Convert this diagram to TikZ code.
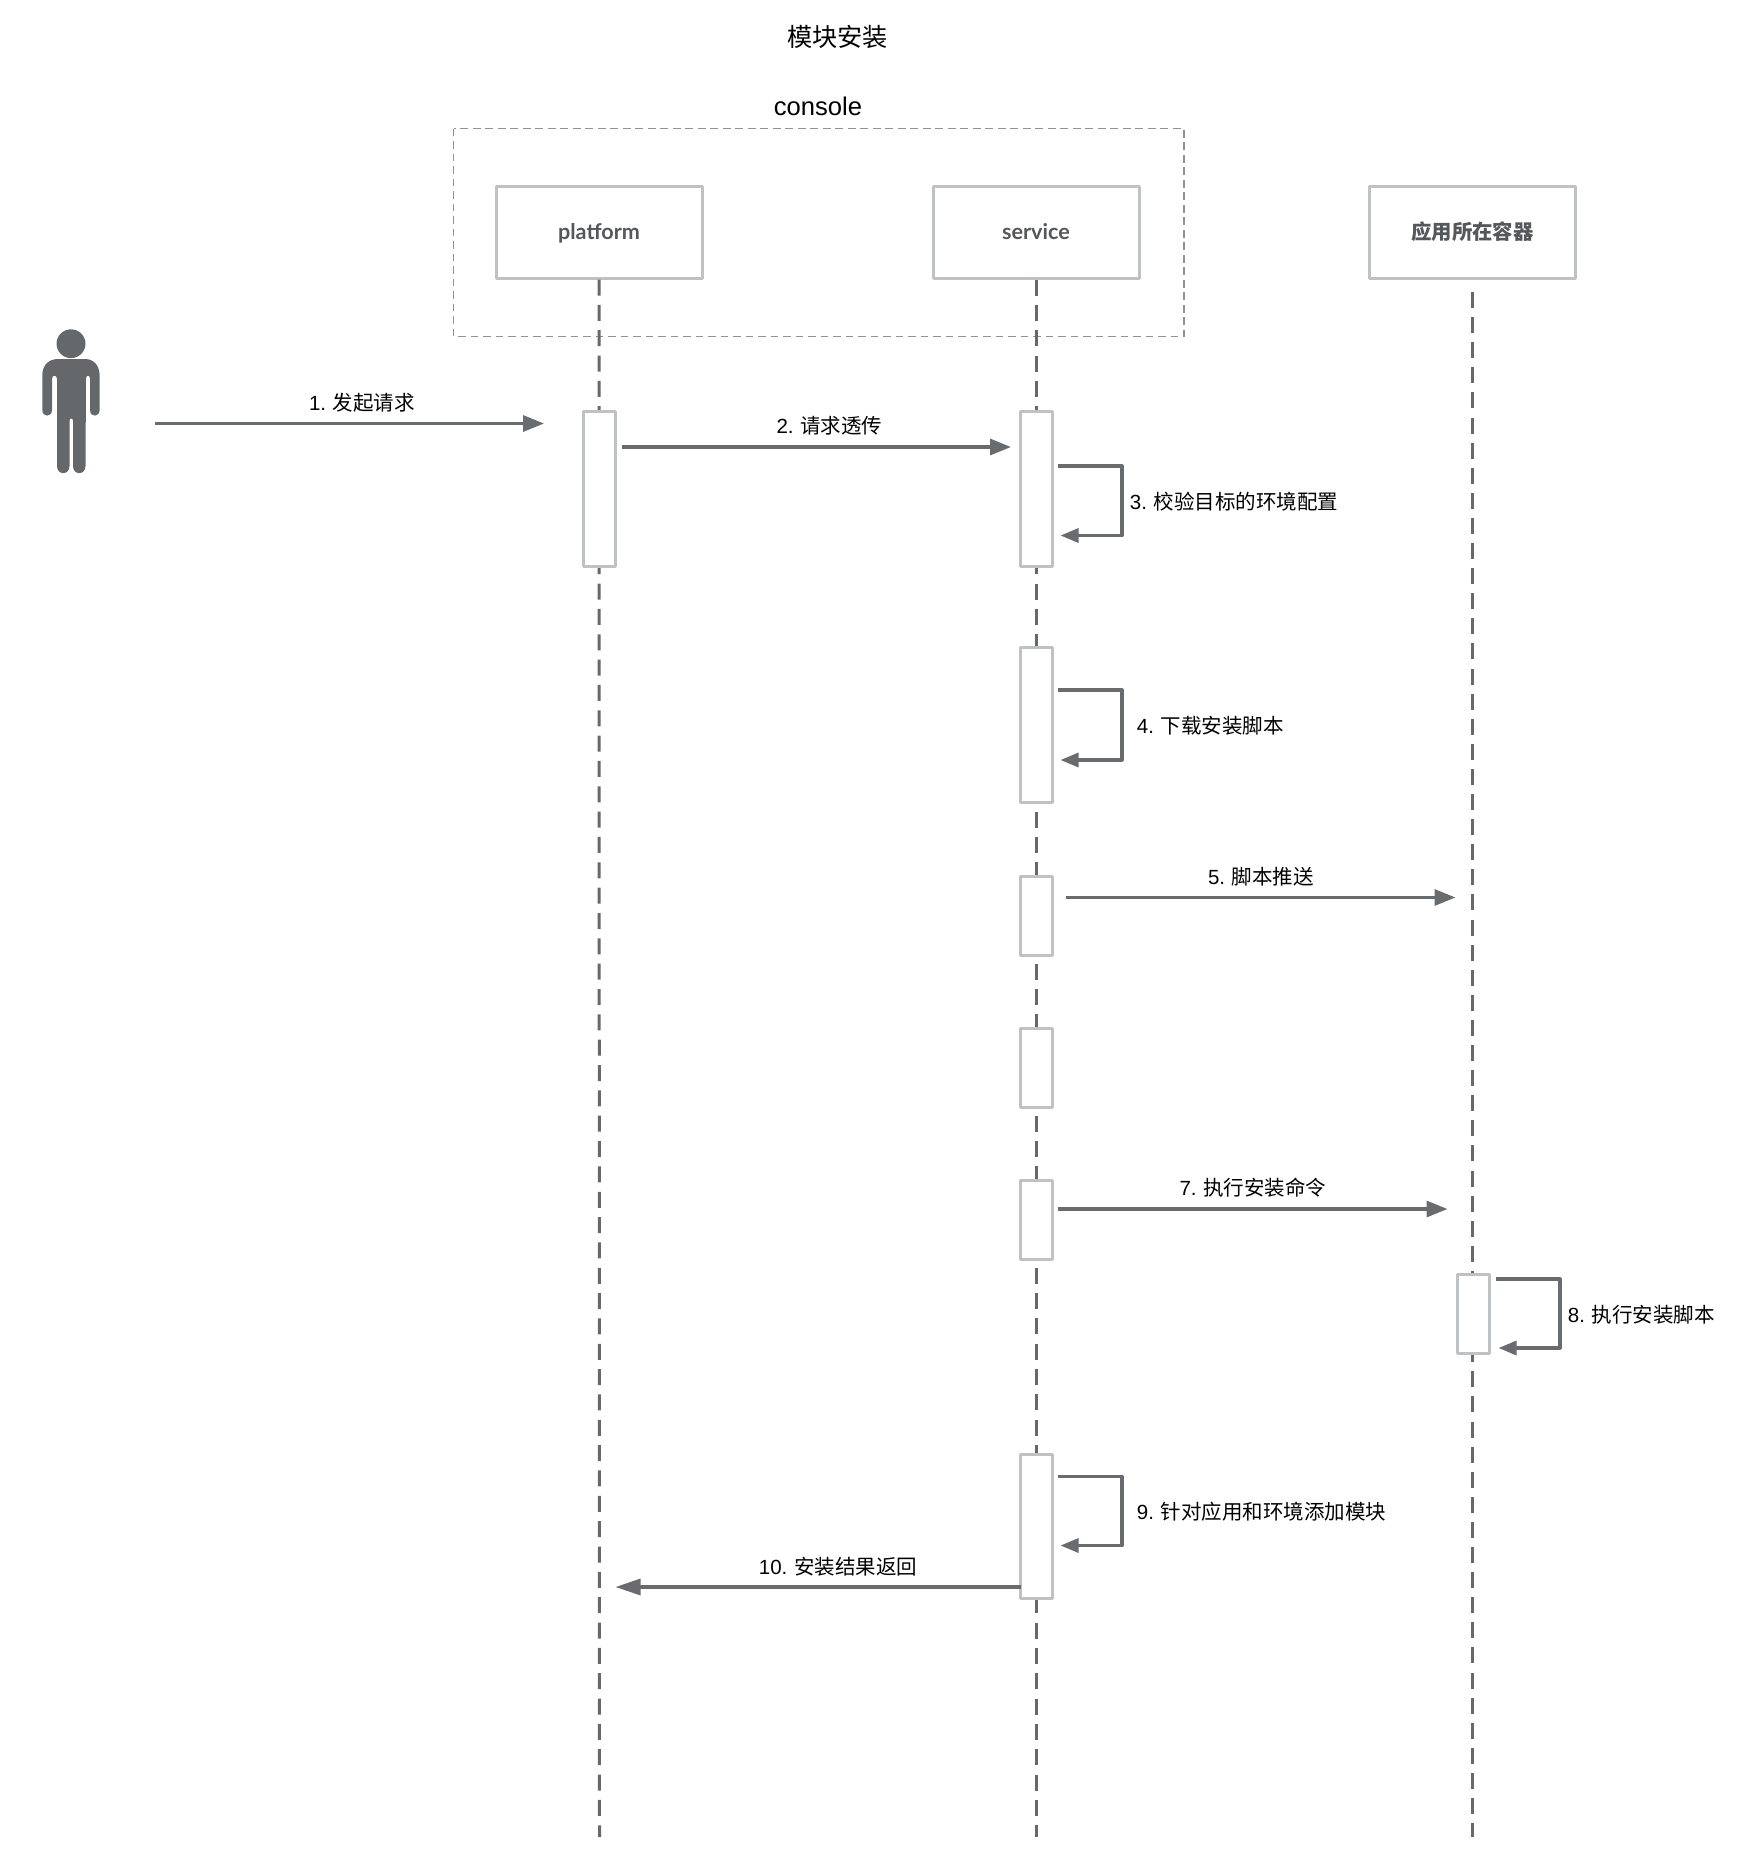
\documentclass[tikz,border=0pt]{standalone}
\usepackage{fontspec}
\usetikzlibrary{arrows.meta}
\setmainfont{Liberation Sans}
\newfontfamily\cjk{Noto Sans CJK SC}
\newfontfamily\lat{Liberation Sans}
\newfontfamily\hdr{Lato}
\definecolor{boxline}{HTML}{BEC2C4}
\definecolor{arrowcol}{HTML}{696C6E}
\definecolor{lifecol}{HTML}{666869}
\definecolor{consolecol}{HTML}{909294}
\definecolor{headcol}{HTML}{55585A}
\definecolor{personcol}{HTML}{65686A}
\tikzset{
  x=0.5pt,y=-0.5pt,
  headbox/.style={draw=boxline,fill=white,line width=1.5pt,line join=round,minimum width=103pt,minimum height=46pt,inner sep=0pt,text=headcol,text height=9.3pt,text depth=1.7pt,font=\fontsize{10.8}{12}\selectfont\bfseries},
  act/.style={draw=boxline,fill=white,line width=1.5pt,line join=round,minimum width=16pt,inner sep=0pt},
  life/.style={draw=lifecol,line width=1.5pt,dash pattern=on 8pt off 4.67pt},
  lifethird/.style={draw=lifecol,line width=1.5pt,dash pattern=on 8pt off 4.55pt},
  msg/.style={draw=arrowcol,line width=1.6pt,-{Triangle[length=10.5pt,width=8pt]}},
  selfmsg/.style={draw=arrowcol,line width=1.6pt,line join=round,-{Triangle[length=9pt,width=7pt]}},
  retmsg/.style={draw=arrowcol,line width=1.6pt,-{Triangle[length=12.5pt,width=8pt]}},
  lbl/.style={inner sep=0pt,text=black,font=\fontsize{10.25}{12}\selectfont},
  consolebox/.style={draw=consolecol,line width=0.8pt,dash pattern=on 3.9pt off 2.35pt},
}
\newcommand{\lab}[2]{{\lat #1\hspace{3.4pt}}{\cjk #2}}
\begin{document}
\begin{tikzpicture}
\useasboundingbox (0,0) rectangle (1744,1864);
% titles
\node[inner sep=0pt,font=\fontsize{12.6}{14}\selectfont] (title) at (837.5,37) {\cjk 模块安装};
\node[inner sep=0pt,font=\fontsize{12.8}{14}\selectfont] (consolelabel) at (818,106) {console};
% console frame
\coordinate (cnw) at (453.5,128.5);
\coordinate (cse) at (1184,336.5);
\draw[consolebox] (cnw) rectangle (cse);
% participants
\node[headbox] (platform) at (599,232) {\hdr platform};
\node[headbox] (service) at (1036,232) {\hdr service};
\node[headbox,font=\fontsize{10.2}{12}\selectfont\bfseries] (container) at (1472.5,232) {\cjk 应用所在容器};
% lifeline ends
\coordinate (pend) at (599.5,1837);
\coordinate (send) at (1036,1837);
\coordinate (cend) at (1472.5,1837);
\coordinate (cstart) at (1472.5,292);
\draw[life] (platform.south) -- (pend);
\draw[life] (service.south) -- (send);
\draw[lifethird] (cstart) -- (cend);
% activations
\node[act,minimum height=77.5pt] (a1) at (599.5,488.5) {};
\node[act,minimum height=77.5pt] (s1) at (1036,488.5) {};
\node[act,minimum height=77.5pt] (s2) at (1036,725) {};
\node[act,minimum height=39.5pt] (s3) at (1036,915.5) {};
\node[act,minimum height=39.5pt] (s4) at (1036,1067.5) {};
\node[act,minimum height=39.5pt] (s5) at (1036,1219.5) {};
\node[act,minimum height=39.5pt] (c1) at (1473,1313.5) {};
\node[act,minimum height=72pt] (s6) at (1036,1526) {};
% person
\fill[personcol] (71,343.7) ellipse [x radius=14.5,y radius=14.4];
\fill[personcol] (58,359) -- (85,359)
  .. controls (94,359) and (99.6,366) .. (99.6,375)
  -- (99.6,410) .. controls (99.6,417.5) and (90,417.5) .. (90,410)
  -- (90,379) .. controls (90,374.5) and (86,374.5) .. (86,379)
  -- (85.5,466) .. controls (85.5,475.5) and (73,475.5) .. (73,466)
  -- (73,421) .. controls (73,417.5) and (69.5,417.5) .. (69.5,421)
  -- (69.5,466) .. controls (69.5,475.5) and (57,475.5) .. (57,466)
  -- (57,379) .. controls (57,374.5) and (52,374.5) .. (52,379)
  -- (52,410) .. controls (52,417.5) and (42.3,417.5) .. (42.3,410)
  -- (42.3,375) .. controls (42.3,366) and (48,359) .. (58,359) -- cycle;
% arrow ends
\coordinate (m1a) at (154.5,423.5); \coordinate (m1b) at (544,423.5);
\coordinate (m2a) at (622,447);     \coordinate (m2b) at (1011,447);
\coordinate (m3a) at (1058,466);    \coordinate (m3c) at (1122,466);
\coordinate (m3d) at (1122,535.5);  \coordinate (m3b) at (1060.5,535.5);
\coordinate (m4a) at (1058,690);    \coordinate (m4c) at (1122,690);
\coordinate (m4d) at (1122,760);    \coordinate (m4b) at (1060.5,760);
\coordinate (m5a) at (1066,897.5);  \coordinate (m5b) at (1455.5,897.5);
\coordinate (m7a) at (1058,1209);   \coordinate (m7b) at (1447.5,1209);
\coordinate (m8a) at (1495.5,1279); \coordinate (m8c) at (1560,1279);
\coordinate (m8d) at (1560,1348);   \coordinate (m8b) at (1498.5,1348);
\coordinate (m9a) at (1058,1476.5); \coordinate (m9c) at (1122,1476.5);
\coordinate (m9d) at (1122,1545.5); \coordinate (m9b) at (1060.5,1545.5);
\coordinate (m10a) at (1021,1587);  \coordinate (m10b) at (615.5,1587);
% arrows
\draw[msg] (m1a) -- (m1b);
\draw[msg] (m2a) -- (m2b);
\draw[selfmsg] (m3a) -- (m3c) -- (m3d) -- (m3b);
\draw[selfmsg] (m4a) -- (m4c) -- (m4d) -- (m4b);
\draw[msg] (m5a) -- (m5b);
\draw[msg] (m7a) -- (m7b);
\draw[selfmsg] (m8a) -- (m8c) -- (m8d) -- (m8b);
\draw[selfmsg] (m9a) -- (m9c) -- (m9d) -- (m9b);
\draw[retmsg] (m10a) -- (m10b);
% labels
\node[lbl] (l1) at (362,403) {\lab{1.}{发起请求}};
\node[lbl] (l2) at (829.5,425.5) {\lab{2.}{请求透传}};
\node[lbl,anchor=west] (l3) at (1129.5,501.5) {\lab{3.}{校验目标的环境配置}};
\node[lbl,anchor=west] (l4) at (1136.5,725.5) {\lab{4.}{下载安装脚本}};
\node[lbl] (l5) at (1261,876.5) {\lab{5.}{脚本推送}};
\node[lbl] (l7) at (1253,1187.5) {\lab{7.}{执行安装命令}};
\node[lbl,anchor=west] (l8) at (1567.5,1315) {\lab{8.}{执行安装脚本}};
\node[lbl,anchor=west] (l9) at (1136.5,1512) {\lab{9.}{针对应用和环境添加模块}};
\node[lbl] (l10) at (838,1567) {\lab{10.}{安装结果返回}};
\end{tikzpicture}
\end{document}
